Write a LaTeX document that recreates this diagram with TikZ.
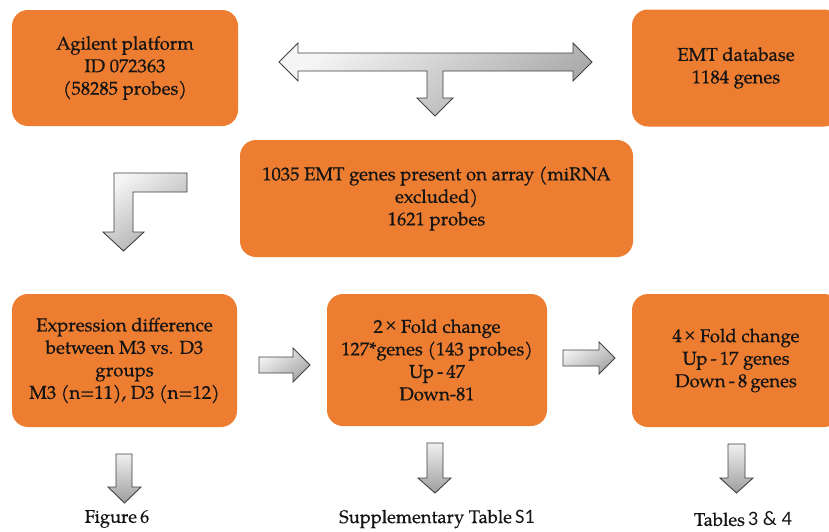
\documentclass[tikz,border=0pt]{standalone}
\usepackage{fontspec}
\setmainfont{TeX Gyre Pagella}[FakeBold=0.6]
\newfontfamily\calib{Carlito}[Scale=1.12]
\begin{document}
\begin{tikzpicture}[x=1pt,y=-1pt,
  box/.style={fill=boxorange, rounded corners=16pt, inner sep=0pt,
    align=center, font=\fontsize{18.6}{22.5}\selectfont\addfontfeature{FakeBold=0.5}, text=black!92},
  blockarrow/.style={draw=black!75, line width=0.9pt, line join=miter,
    left color=black!4, right color=black!35, shading angle=35},
  downarrow/.style={draw=black!75, line width=0.9pt,
    top color=black!6, bottom color=black!38},
  label/.style={font=\fontsize{18.3}{22}\selectfont\addfontfeature{FakeBold=0.4}, text=black!92}]
\definecolor{boxorange}{HTML}{ED7D31}
\useasboundingbox (0,0) rectangle (829,531);
\clip (0,0) rectangle (829,531);

% boxes
\node[box, minimum width=226pt, minimum height=116pt] (agilent) at (125,68)
  {Agilent platform\\ID 072363\\(58285 probes)};
\node[box, minimum width=208pt, minimum height=117pt] (emtdb) at (736,68)
  {EMT database\\1184 genes};
\node[box, minimum width=393pt, minimum height=117pt] (present) at (436.5,198.5)
  {1035 EMT genes present on array (miRNA\\excluded)\\1621 probes};
\node[box, minimum width=225pt, minimum height=133pt] (expr) at (124.5,360.5)
  {Expression difference\\between M3 vs. D3\\groups\\M3 (n=11), D3 (n=12)};
\node[box, minimum width=220pt, minimum height=132pt] (two) at (437,360)
  {2\,{\calib\char"00D7} Fold change\\127*genes (143 probes)\\Up\,-\,47\\Down-81};
\node[box, minimum width=208pt, minimum height=133pt] (four) at (736,360.5)
  {4\,{\calib\char"00D7} Fold change\\Up\,-\,17 genes\\Down\,-\,8\,genes};

% output labels
\node[label] (fig) at (117,519) {Figure\,6};
\node[label] (supp) at (437,519) {Supplementary Table\,{\calib S1}};
\node[label] (tabs) at (743,519) {Tables\,{\calib 3 \& 4}};

% two-headed arrow with a branch down to the merged set
\path[blockarrow] (279,62) -- (298,43) -- (298,53) -- (573,53) -- (573,43)
  -- (592,62) -- (573,81) -- (573,71) -- (443,71) -- (443,98) -- (453,98)
  -- (435,116) -- (417,98) -- (427,98) -- (427,71) -- (298,71) -- (298,81) -- cycle;

% bent arrow down to the expression box
\path[blockarrow] (187,173) -- (187,192) -- (133,192) -- (133,232) -- (144,232)
  -- (123.5,251) -- (103,232) -- (114,232) -- (114,173) -- cycle;

% arrows between the lower boxes
\path[blockarrow] (259,357) -- (293,357) -- (293,348) -- (310,365) -- (293,382)
  -- (293,373) -- (259,373) -- cycle;
\path[blockarrow] (563,350) -- (599,350) -- (599,342) -- (615,358) -- (599,374)
  -- (599,366) -- (563,366) -- cycle;

% arrows down to the outputs
\path[downarrow] (116,454) -- (132,454) -- (132,487) -- (141,487) -- (124.5,503)
  -- (108,487) -- (116,487) -- cycle;
\path[downarrow] (427,443) -- (443,443) -- (443,478) -- (451,478) -- (435,493)
  -- (418,478) -- (427,478) -- cycle;
\path[downarrow] (728,444) -- (745,444) -- (745,478) -- (753,478) -- (736.5,493)
  -- (720,478) -- (728,478) -- cycle;
\end{tikzpicture}
\end{document}
